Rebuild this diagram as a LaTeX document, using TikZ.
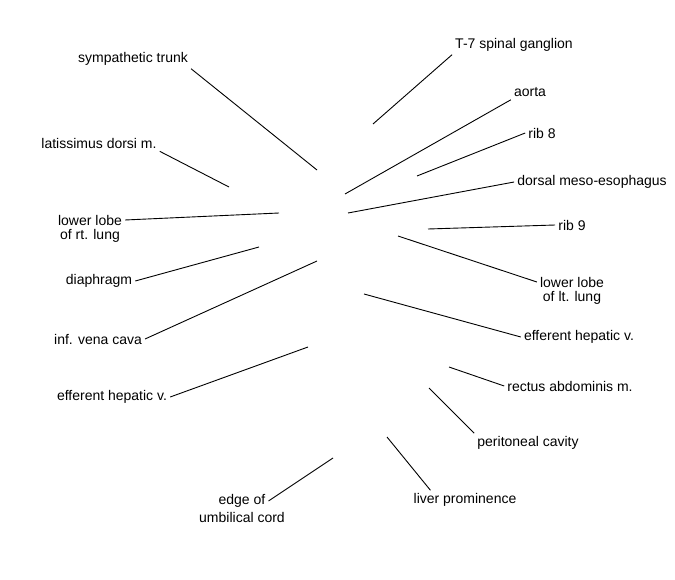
\documentclass[tikz,border=0pt]{standalone}
\usepackage{fontspec}
\setmainfont{Liberation Sans}
\usetikzlibrary{positioning}
\tikzset{
	lbl/.style={font=\fontsize{14}{17}\selectfont, inner sep=3pt},
	leader/.style={draw=black, line width=0.9pt}
}
\begin{document}
\begin{tikzpicture}[x=1pt,y=-1pt]
		\useasboundingbox (0,0) rectangle (675,580);
		% labels on the left
		\node[lbl] (symp) at (133,59) {sympathetic trunk};
		\node[lbl] (latd) at (99,143) {latissimus dorsi m.};
		\node[lbl] (lorl) at (90,220) {lower lobe};
		\node[lbl, below=-2pt of lorl] (lorl2) {of rt. lung};
		\node[lbl] (diaph) at (99,281) {diaphragm};
		\node[lbl] (ivc) at (98,339) {inf. vena cava};
		\node[lbl] (efhl) at (112,397) {efferent hepatic v.};
		\node[lbl] (edge) at (242,501) {edge of};
		\node[lbl, below=-2pt of edge] (edge2) {umbilical cord};
		% labels on the right
		\node[lbl] (tgang) at (514,45) {T-7 spinal ganglion};
		\node[lbl] (aorta) at (530,92) {aorta};
		\node[lbl] (ribe) at (542,133) {rib 8};
		\node[lbl] (dmes) at (592,182) {dorsal meso-esophagus};
		\node[lbl] (ribn) at (572,225) {rib 9};
		\node[lbl] (lorll) at (572,282) {lower lobe};
		\node[lbl, below=-2pt of lorll] (lorll2) {of lt. lung};
		\node[lbl] (efhr) at (579,337) {efferent hepatic v.};
		\node[lbl] (rect) at (570,386) {rectus abdominis m.};
		\node[lbl] (peri) at (528,443) {peritoneal cavity};
		\node[lbl] (livp) at (465,500) {liver prominence};
		% free ends of the leaders
		\coordinate (symp-e) at (317,170);
		\coordinate (latd-e) at (229,187);
		\coordinate (lorl-e) at (279,213);
		\coordinate (diaph-e) at (259,247);
		\coordinate (ivc-e) at (317,261);
		\coordinate (efhl-e) at (308,347);
		\coordinate (edge-e) at (333,458);
		\coordinate (tgang-e) at (373,124);
		\coordinate (aorta-e) at (345,194);
		\coordinate (ribe-e) at (417,176);
		\coordinate (dmes-e) at (348,213);
		\coordinate (ribn-e) at (428,229);
		\coordinate (lorll-e) at (398,236);
		\coordinate (efhr-e) at (364,294);
		\coordinate (rect-e) at (449,367);
		\coordinate (peri-e) at (429,388);
		\coordinate (livp-e) at (387,437);
		\draw[leader] (symp.south east) -- (symp-e);
		\draw[leader] (latd.south east) -- (latd-e);
		\draw[leader] (lorl.east) -- (lorl-e);
		\draw[leader] (diaph.east) -- (diaph-e);
		\draw[leader] (ivc.east) -- (ivc-e);
		\draw[leader] (efhl.east) -- (efhl-e);
		\draw[leader] (edge.east) -- (edge-e);
		\draw[leader] (tgang.south west) -- (tgang-e);
		\draw[leader] (aorta.south west) -- (aorta-e);
		\draw[leader] (ribe.west) -- (ribe-e);
		\draw[leader] (dmes.west) -- (dmes-e);
		\draw[leader] (ribn.west) -- (ribn-e);
		\draw[leader] (lorll.west) -- (lorll-e);
		\draw[leader] (efhr.west) -- (efhr-e);
		\draw[leader] (rect.west) -- (rect-e);
		\draw[leader] (peri.north west) -- (peri-e);
		\draw[leader] ([xshift=20pt]livp.north west) -- (livp-e);
		\end{tikzpicture}
\end{document}
